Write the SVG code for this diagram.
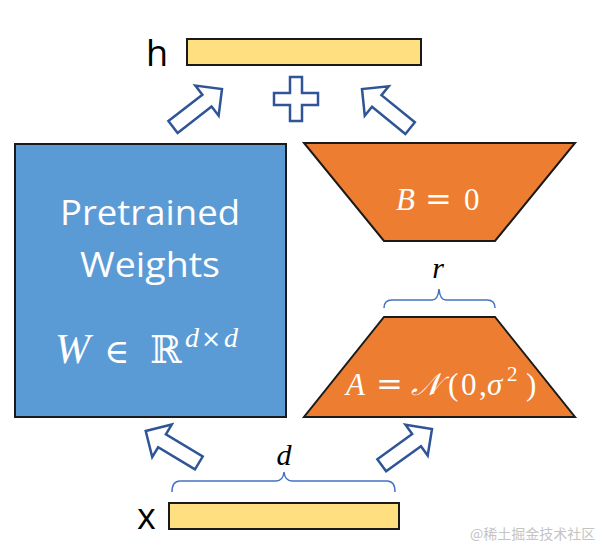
<svg xmlns="http://www.w3.org/2000/svg" width="599" height="557" viewBox="0 0 599 557">
<defs>
<style>
.bar{fill:#FFDF80;stroke:#1a1a1a;stroke-width:2}
.blk{fill:#5B9BD5;stroke:#1a1a1a;stroke-width:2}
.org{fill:#ED7D31;stroke:#1a1a1a;stroke-width:2}
.arr{fill:#ffffff;stroke:#2F5597;stroke-width:2.5;stroke-linejoin:miter}
.brace{fill:none;stroke:#4472C4;stroke-width:1.5}
.lbl{font-family:"Open Sans","Liberation Sans",sans-serif;fill:#000}
.wt{font-family:"Open Sans","Liberation Sans",sans-serif;fill:#fff;font-size:34px}
.m{font-family:"Liberation Serif","DejaVu Serif",serif;font-style:italic}
.mu{font-family:"Liberation Serif","DejaVu Serif",serif}
.op{font-family:"DejaVu Serif","Liberation Serif",serif}
.wm{font-family:"Noto Sans CJK SC",sans-serif;font-size:14px;fill:#c4c4c4}
</style>
<path id="arrow" d="M0,-7.5 L43,-7.5 L43,-19 L62,0 L43,19 L43,7.5 L0,7.5 Z"/>
</defs>

<g id="h">
<rect class="bar" x="187" y="39" width="234" height="26"/>
<text class="lbl" x="146" y="66" font-size="36">h</text>
</g>

<g id="plus">
<path class="arr" d="M290,77 H302 V93 H318 V105 H302 V121 H290 V105 H274 V93 H290 Z"/>
</g>

<g id="pretrained">
<rect class="blk" x="15" y="144" width="271" height="273"/>
<text class="wt" x="60" y="225" textLength="180" lengthAdjust="spacingAndGlyphs">Pretrained</text>
<text class="wt" x="80" y="277" textLength="140" lengthAdjust="spacingAndGlyphs">Weights</text>
<text fill="#fff" y="363"><tspan class="m" x="55" font-size="42">W</tspan><tspan class="op" x="104" font-size="34">∈</tspan><tspan x="150" font-size="38" style="font-family:'DejaVu Serif','DejaVu Sans',serif">ℝ</tspan><tspan class="m" x="185" y="347" font-size="28">d</tspan><tspan class="op" x="201" y="347" font-size="24">×</tspan><tspan class="m" x="224" y="347" font-size="28">d</tspan></text>
</g>

<g id="B">
<polygon class="org" points="304,143 575,143 495,241 384,241"/>
<text fill="#fff" y="210" font-size="31"><tspan class="m" x="396">B</tspan><tspan class="op" x="425" font-size="32">=</tspan><tspan class="mu" x="464">0</tspan></text>
</g>

<g id="rlabel">
<text class="m" x="438" y="278" font-size="30" text-anchor="middle">r</text>
</g>

<g id="A">
<polygon class="org" points="384,317 495,317 575,417 304,417"/>
<text fill="#fff" y="395" font-size="31"><tspan class="m" x="346">A</tspan><tspan class="op" x="376" font-size="32">=</tspan><tspan class="m" x="411">𝒩</tspan><tspan class="mu" x="448">(</tspan><tspan class="mu" x="461">0</tspan><tspan class="mu" x="479">,</tspan><tspan class="m" x="487">σ</tspan><tspan class="mu" x="507" y="381" font-size="21">2</tspan><tspan class="mu" x="526" y="395">)</tspan></text>
</g>

<g id="dlabel">
<text class="m" x="284" y="465" font-size="30" text-anchor="middle">d</text>
</g>

<g id="x">
<rect class="bar" x="169" y="503" width="230" height="26"/>
<text class="lbl" x="137" y="529" font-size="36">x</text>
</g>

<g id="connectors">
<use href="#arrow" class="arr" transform="translate(222,89) rotate(-37.8) translate(-62,0)"/>
<use href="#arrow" class="arr" transform="translate(362,89) rotate(-140.9) translate(-62,0)"/>
<use href="#arrow" class="arr" transform="translate(144,430) rotate(-149) translate(-64,0)"/>
<use href="#arrow" class="arr" transform="translate(432,429) rotate(-35.8) translate(-62,0)"/>
<path class="brace" d="M384,308 Q384,300 392,300 L432,300 Q438,300 439,289 Q440,300 446,300 L487,300 Q495,300 495,308"/>
<path class="brace" d="M172,492 Q172,481 180,481 L276,481 Q283,481 284,472 Q285,481 292,481 L387,481 Q395,481 395,492"/>
</g>

<text class="wm" x="470" y="539">@稀土掘金技术社区</text>
</svg>
